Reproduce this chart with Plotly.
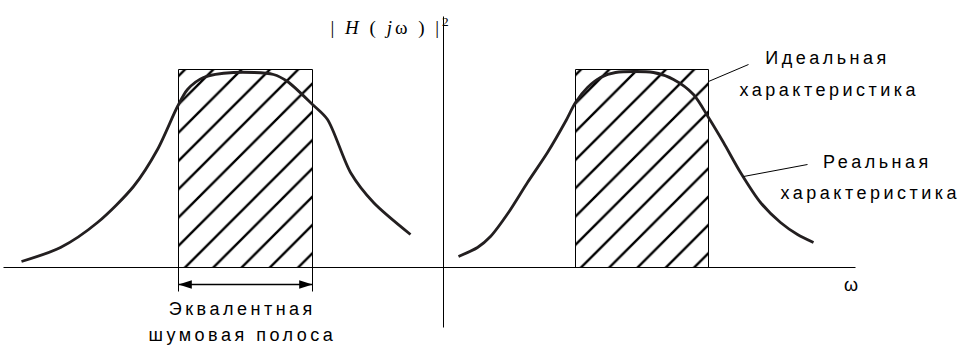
import plotly.graph_objects as go

# ---- data (x = omega, y = |H(jw)|^2 in drawing units; axes cross at 0,0) ----
left_x = [-422, -383, -346, -310, -286, -266, -256, -240, -210, -170, -156, -131, -116, -93, -70, -33]
left_y = [6, 20, 45, 81, 118, 161, 178, 190, 195, 193, 186, 163, 148, 95, 65, 33]

right_x = [15, 34, 47, 65, 84, 104, 122, 132, 144, 157, 172, 210, 230, 250, 265, 280, 297, 317, 337, 354, 370]
right_y = [11, 20, 31, 55, 85, 115, 146, 165, 180, 190, 195, 195, 188, 173, 150, 125, 95, 65, 45, 33, 25]

rect_centers = [-198, 198.5]
rect_widths = [134, 133]
rect_heights = [198, 198]

omega_axis_x = [-440, 412]
omega_axis_y = [0, 0]
h_axis_x = [0, 0]
h_axis_y = [251, -60]

band_edges = [-265, -131]
band_ext_y = [0, -24]
arrow_y = [-17, -17]
arrow_angles = [-90, 90]

leader_ideal_x = [265, 305]
leader_ideal_y = [186, 203]
leader_real_x = [300, 364]
leader_real_y = [91, 103]

labels = [
    # text, x(center), y
    ("Идеальная", 384, 210),
    ("характеристика", 386, 178),
    ("Реальная", 434, 106),
    ("характеристика", 427, 75),
    ("Эквалентная", -201, -41),
    ("шумовая полоса", -201, -67),
]

BLACK = "#000000"
CURVE = "#231f20"

fig = go.Figure()

# ideal (rectangular) characteristics: hatched bars
fig.add_trace(go.Bar(
    x=rect_centers, y=rect_heights, width=rect_widths, base=0,
    marker=dict(
        color="white",
        line=dict(color=BLACK, width=1),
        pattern=dict(shape="/", size=20, solidity=0.12, fgcolor=BLACK, bgcolor="white", fgopacity=1),
    ),
    hoverinfo="skip",
))

line_kw = dict(mode="lines", hoverinfo="skip")

# axes
fig.add_trace(go.Scatter(x=omega_axis_x, y=omega_axis_y, line=dict(color=BLACK, width=1), **line_kw))
fig.add_trace(go.Scatter(x=h_axis_x, y=h_axis_y, line=dict(color=BLACK, width=1), **line_kw))

# band extension lines
for bx in band_edges:
    fig.add_trace(go.Scatter(x=[bx, bx], y=band_ext_y, line=dict(color=BLACK, width=1), **line_kw))

# double arrow for the equivalent noise band
fig.add_trace(go.Scatter(
    x=band_edges, y=arrow_y, mode="lines+markers", hoverinfo="skip",
    line=dict(color=BLACK, width=1.4),
    marker=dict(symbol="arrow", size=14, angle=arrow_angles, color=BLACK),
))

# real characteristics
fig.add_trace(go.Scatter(x=left_x, y=left_y, line=dict(color=CURVE, width=2.8, shape="spline", smoothing=0.8), **line_kw))
fig.add_trace(go.Scatter(x=right_x, y=right_y, line=dict(color=CURVE, width=2.8, shape="spline", smoothing=0.8), **line_kw))

# leader lines
fig.add_trace(go.Scatter(x=leader_ideal_x, y=leader_ideal_y, line=dict(color=BLACK, width=1), **line_kw))
fig.add_trace(go.Scatter(x=leader_real_x, y=leader_real_y, line=dict(color=BLACK, width=1), **line_kw))

annotations = []
LABEL_FONT = dict(family="Liberation Sans, sans-serif", size=18, color=BLACK)
for txt, lx, ly in labels:
    annotations.append(dict(
        x=lx, y=ly, xref="x", yref="y", text=txt, showarrow=False,
        xanchor="center", yanchor="middle", font=LABEL_FONT,
    ))

annotations.append(dict(
    x=-53, y=241, xref="x", yref="y",
    text="| <i>H</i> ( <i>j</i>ω ) |<sup>2</sup>", showarrow=False,
    xanchor="center", yanchor="middle",
    font=dict(family="Liberation Serif, serif", size=19, color=BLACK),
))
annotations.append(dict(
    x=407, y=-17, xref="x", yref="y", text="ω", showarrow=False,
    xanchor="center", yanchor="middle",
    font=dict(family="Liberation Sans, sans-serif", size=18, color=BLACK),
))

fig.update_layout(
    width=974, height=358,
    margin=dict(l=0, r=0, t=0, b=0),
    paper_bgcolor="white", plot_bgcolor="white",
    showlegend=False,
    annotations=annotations,
    xaxis=dict(range=[-443.5, 530.5], visible=False, fixedrange=True),
    yaxis=dict(range=[-90.5, 267.5], visible=False, fixedrange=True),
    bargap=0,
)

post_script = """
(function(){
  function spaceOut(){
    document.querySelectorAll('.annotation-text').forEach(function(t){
      var s = t.textContent;
      if (s === 'ω') return;
      if (s.indexOf('H') >= 0) { t.style.letterSpacing = '3px'; return; }
      t.style.letterSpacing = '3.5px';
    });
  }
  spaceOut();
  var gd = document.querySelector('.plotly-graph-div');
  if (gd && gd.on) gd.on('plotly_afterplot', spaceOut);
})();
"""

fig.write_html("out.html", post_script=post_script)
